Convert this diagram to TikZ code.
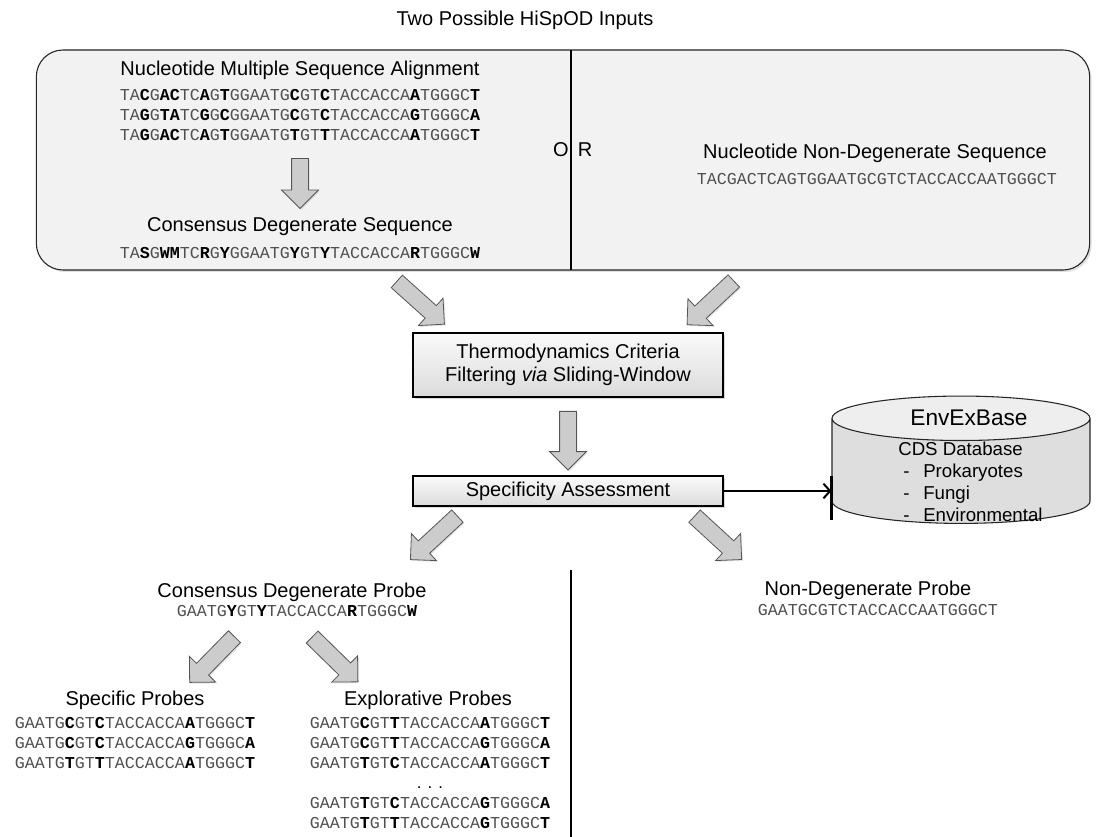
\documentclass[tikz,border=0pt]{standalone}
\usepackage{fontspec}
\setmainfont{Liberation Sans}
\setsansfont{Liberation Sans}
\setmonofont{Liberation Mono}
\usepackage{xcolor}
\usetikzlibrary{shapes.geometric, shapes.arrows, arrows.meta, positioning, shadows}
\definecolor{panelgray}{RGB}{242, 242, 242}
\definecolor{seqgray}{RGB}{80, 80, 80}
\definecolor{arrowfill}{RGB}{204, 204, 204}
\definecolor{arrowedge}{RGB}{85, 85, 85}
\definecolor{dbtop}{RGB}{238, 238, 238}
\definecolor{dbbody}{RGB}{222, 222, 222}
\newcommand{\vb}[1]{\textbf{\color{black}#1}}

\begin{document}
\begin{tikzpicture}[
    x=0.75pt, y=-0.75pt,
    lbl/.style={font=\fontsize{15}{18}\selectfont, inner sep=0pt, align=center},
    seqtxt/.style={font=\ttfamily\fontsize{12.5}{15}\selectfont, text=seqgray, inner sep=0pt, align=center},
    procbox/.style={rectangle, draw=black, line width=0.9pt, top color=gray!4, bottom color=gray!28, minimum width=232.5pt, align=center, font=\fontsize{15}{17}\selectfont, drop shadow={opacity=0.3, shadow xshift=1.5pt, shadow yshift=-1.5pt}},
    fatarrow/.style={single arrow, draw=arrowedge, fill=arrowfill, line width=0.6pt, minimum width=27pt, single arrow head extend=7.5pt, inner xsep=0pt, inner ysep=6pt, minimum height=48pt, sloped, allow upside down, drop shadow={opacity=0.2, shadow xshift=1pt, shadow yshift=-1pt}},
    link/.style={line width=1.5pt, -{Straight Barb[length=5pt, width=11pt, line width=1.5pt]}}
]
    \fill[white] (0,0) rectangle (1106,837);
    \useasboundingbox (0,0) rectangle (1106,837);

    % inputs
    \node[lbl] (title) at (525,20) {Two Possible HiSpOD Inputs};
    \node[draw=black!85, fill=panelgray, line width=0.8pt, rounded corners=20pt, minimum width=790pt, minimum height=165pt, drop shadow={opacity=0.25, shadow xshift=1.5pt, shadow yshift=-1.5pt}] (inputs) at (563,160) {};
    \draw[line width=0.8pt] (571,50) -- (571,270);
    \node[lbl] (orleft) at (561,150) {O};
    \node[lbl] (orright) at (585,150) {R};

    \node[lbl] (msa) at (300,70) {Nucleotide Multiple Sequence Alignment};
    \node[seqtxt] (msaseq) at (300,115) {TA\vb{C}G\vb{AC}TC\vb{A}G\vb{T}GGAATG\vb{C}GT\vb{C}TACCACCA\vb{A}TGGGC\vb{T}\\
        TA\vb{G}G\vb{TA}TC\vb{G}G\vb{C}GGAATG\vb{C}GT\vb{C}TACCACCA\vb{G}TGGGC\vb{A}\\
        TA\vb{G}G\vb{AC}TC\vb{A}G\vb{T}GGAATG\vb{T}GT\vb{T}TACCACCA\vb{A}TGGGC\vb{T}};
    \node[lbl] (cons) at (300,227) {Consensus Degenerate Sequence};
    \node[seqtxt] (consseq) at (300,253) {TA\vb{S}G\vb{WM}TC\vb{R}G\vb{Y}GGAATG\vb{Y}GT\vb{Y}TACCACCA\vb{R}TGGGC\vb{W}};
    \path (msaseq) -- node[fatarrow, minimum height=37.5pt] (downmsa) {} (cons);

    \node[lbl] (nondeg) at (875,153) {Nucleotide Non-Degenerate Sequence};
    \node[seqtxt] (nondegseq) at (877,179) {TACGACTCAGTGGAATGCGTCTACCACCAATGGGCT};

    % processing
    \node[procbox, minimum height=48pt] (thermo) at (568,365) {Thermodynamics Criteria\\Filtering \textit{via} Sliding-Window};
    \node[procbox, minimum height=22.5pt] (spec) at (568,491) {Specificity Assessment};

    \coordinate (fromleft) at (393,278);
    \coordinate (toleftin) at (442,322);
    \coordinate (fromright) at (737,278);
    \coordinate (torightin) at (690,322);
    \path (fromleft) -- node[fatarrow] (diagleft) {} (toleftin);
    \path (fromright) -- node[fatarrow] (diagright) {} (torightin);
    \path (thermo) -- node[fatarrow, minimum height=44pt] (downthermo) {} (spec);

    % database
    \node[cylinder, shape border rotate=90, draw=black!85, line width=0.8pt, aspect=5, minimum width=193.5pt, minimum height=95.5pt, cylinder uses custom fill, cylinder body fill=dbbody, cylinder end fill=dbtop] (envex) at (961,474) {};
    \node[font=\fontsize{17}{20}\selectfont, inner sep=0pt] (envexname) at (969,418) {EnvExBase};
    \node[font=\fontsize{14}{16.5}\selectfont, inner sep=0pt, align=left, anchor=north west] (cdslist) at (898,442) {CDS Database\\
        \hspace{3.75pt}\makebox[15pt][l]{-}Prokaryotes\\
        \hspace{3.75pt}\makebox[15pt][l]{-}Fungi\\
        \hspace{3.75pt}\makebox[15pt][l]{-}Environmental};
    \draw[line width=2.2pt] (envex.west |- 0,476) -- (envex.west |- 0,520);
    \draw[link] (spec.east) -- (spec.east -| envex.west);

    % probes
    \coordinate (specleft) at (464,510);
    \coordinate (probeleft) at (410,560);
    \coordinate (specright) at (690,512);
    \coordinate (proberight) at (740,558);
    \path (specleft) -- node[fatarrow] (diagcdp) {} (probeleft);
    \path (specright) -- node[fatarrow] (diagndp) {} (proberight);
    \draw[line width=0.8pt] (571,570) -- (571,837);

    \node[lbl] (cdp) at (292,592) {Consensus Degenerate Probe};
    \node[seqtxt] (cdpseq) at (297,611) {GAATG\vb{Y}GT\vb{Y}TACCACCA\vb{R}TGGGC\vb{W}};
    \node[lbl] (ndp) at (868,590) {Non-Degenerate Probe};
    \node[seqtxt] (ndpseq) at (878,610) {GAATGCGTCTACCACCAATGGGCT};

    \coordinate (cdpleft) at (238,633);
    \coordinate (specificin) at (192,680);
    \coordinate (cdpright) at (308,633);
    \coordinate (explorin) at (356,680);
    \path (cdpleft) -- node[fatarrow] (diagspecific) {} (specificin);
    \path (cdpright) -- node[fatarrow] (diagexplor) {} (explorin);

    \node[lbl] (specific) at (135,700) {Specific Probes};
    \node[seqtxt] (specificseq) at (135,743) {GAATG\vb{C}GT\vb{C}TACCACCA\vb{A}TGGGC\vb{T}\\
        GAATG\vb{C}GT\vb{C}TACCACCA\vb{G}TGGGC\vb{A}\\
        GAATG\vb{T}GT\vb{T}TACCACCA\vb{A}TGGGC\vb{T}};
    \node[lbl] (explor) at (428,700) {Explorative Probes};
    \node[seqtxt] (explorseq) at (430,773) {GAATG\vb{C}GT\vb{T}TACCACCA\vb{A}TGGGC\vb{T}\\
        GAATG\vb{C}GT\vb{T}TACCACCA\vb{G}TGGGC\vb{A}\\
        GAATG\vb{T}GT\vb{C}TACCACCA\vb{A}TGGGC\vb{T}\\
        {\rmfamily\color{black}. . .}\\
        GAATG\vb{T}GT\vb{C}TACCACCA\vb{G}TGGGC\vb{A}\\
        GAATG\vb{T}GT\vb{T}TACCACCA\vb{G}TGGGC\vb{T}};
\end{tikzpicture}
\end{document}
